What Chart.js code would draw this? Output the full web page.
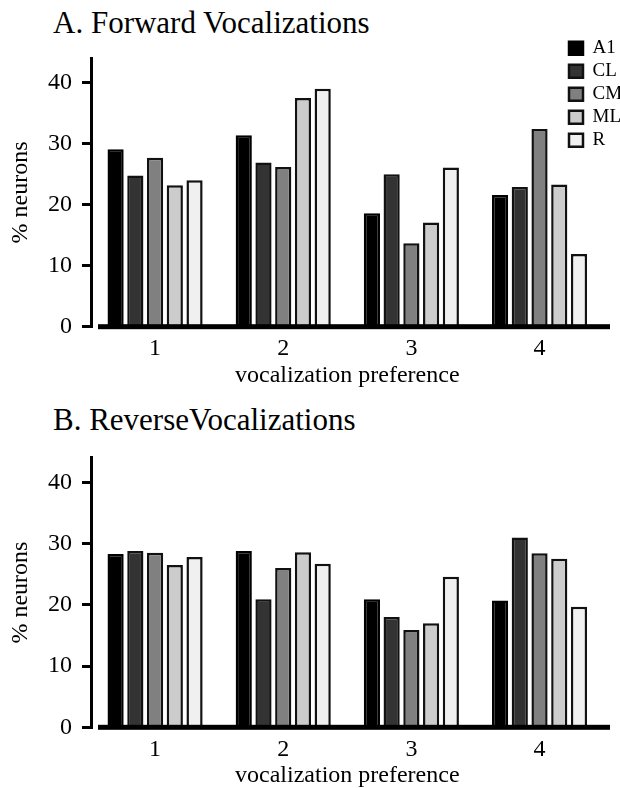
<!DOCTYPE html>
<html>
<head>
<meta charset="utf-8">
<script src="https://cdn.jsdelivr.net/npm/chart.js@4.4.1/dist/chart.umd.min.js"></script>
<style>
  html, body { margin: 0; padding: 0; background: #ffffff; }
  body { width: 620px; height: 788px; position: relative; overflow: hidden; }
  canvas { position: absolute; left: 0; }
  #forwardChart { top: 0; }
  #reverseChart { top: 394px; }
  .panel-head {
    position: absolute; left: 53px; margin: 0;
    font-family: 'Liberation Serif', 'Times New Roman', serif;
    font-size: 31px; line-height: 31px; font-weight: normal;
    color: #000; white-space: nowrap;
  }
</style>
</head>
<body>
<div class="panel-head" style="top:7px">A. Forward Vocalizations</div>
<div class="panel-head" style="top:404px">B. ReverseVocalizations</div>
<canvas id="forwardChart" width="620" height="394"></canvas>
<canvas id="reverseChart" width="620" height="394"></canvas>
<script>
// vocalization preference rank (x categories)
const categories = ['1', '2', '3', '4'];
// cortical fields
const areas = ['A1', 'CL', 'CM', 'ML', 'R'];
// y tick range (% neurons)
const yMin = 0;
const yMax = 44;
const yStep = 10;

// % neurons per preference rank, forward vocalizations
const forwardA1 = [29.1, 31.4, 18.6, 21.6];
const forwardCL = [24.8, 26.9, 25.0, 22.9];
const forwardCM = [27.7, 26.2, 13.7, 32.4];
const forwardML = [23.2, 37.5, 17.1, 23.3];
const forwardR  = [24.0, 39.0, 26.1, 11.9];

// % neurons per preference rank, reversed vocalizations
const reverseA1 = [28.3, 28.8, 20.9, 20.7];
const reverseCL = [28.8, 20.9, 18.0, 31.0];
const reverseCM = [28.5, 26.0, 15.9, 28.4];
const reverseML = [26.5, 28.6, 17.0, 27.5];
const reverseR  = [27.8, 26.7, 24.6, 19.7];

const fills   = ['#000000', '#333333', '#808080', '#cccccc', '#f0f0f0'];
const strokes = ['#000000', '#111111', '#111111', '#111111', '#111111'];

Chart.defaults.font.family = "'Liberation Serif', 'Times New Roman', serif";
Chart.defaults.color = '#000';

// heavy zero line under the bars
const baseline = {
  id: 'baseline',
  afterDatasetsDraw(chart, args, o) {
    const { ctx, chartArea, scales } = chart;
    const y = scales.y.getPixelForValue(0);
    ctx.save();
    ctx.fillStyle = '#000';
    const x0 = chartArea.left + o.inset;
    const x1 = chartArea.right + o.overhang;
    ctx.fillRect(x0, y - o.width / 2, x1 - x0, o.width);
    ctx.restore();
  }
};

// park the legend in the upper right corner of the plot
const legendSpot = {
  id: 'legendSpot',
  afterLayout(chart, args, o) {
    const lg = chart.legend;
    if (!lg || !o || o.x === undefined) return;
    lg.left = o.x;
    lg.top = o.y;
    lg.right = chart.width;
    lg.bottom = o.y + 160;
    lg.width = lg.right - lg.left;
    lg.height = lg.bottom - lg.top;
  }
};

function buildDatasets(series) {
  return series.map((values, i) => ({
    label: areas[i],
    data: values,
    backgroundColor: fills[i],
    borderColor: strokes[i],
    borderWidth: 2.5,
    categoryPercentage: 0.77,
    barPercentage: 0.82
  }));
}

function makeChart(id, series, cfg) {
  return new Chart(document.getElementById(id), {
    type: 'bar',
    data: { labels: categories, datasets: buildDatasets(series) },
    options: {
      responsive: false,
      animation: false,
      devicePixelRatio: 1,
      layout: { padding: { left: 0, right: 16.4, top: cfg.padTop, bottom: 0 } },
      plugins: {
        title: { display: false },
        tooltip: { enabled: false },
        legend: cfg.legend,
        legendSpot: cfg.legendSpot,
        baseline: { inset: 7, overhang: 6.4, width: 5 }
      },
      scales: {
        x: {
          grid: { display: false, drawTicks: false },
          border: { display: false },
          ticks: { padding: 8, color: '#000', font: { size: 24 } },
          title: {
            display: true, text: 'vocalization preference', color: '#000',
            font: { size: 24, lineHeight: 1 },
            padding: { top: 0, bottom: cfg.xTitlePad }
          },
          afterFit: s => { s.height = cfg.xHeight; }
        },
        y: {
          min: yMin, max: yMax,
          ticks: { stepSize: yStep, includeBounds: false, padding: 10, color: '#000', font: { size: 24 } },
          grid: { drawOnChartArea: false, drawTicks: true, tickLength: 9, lineWidth: 3, color: '#000' },
          border: { display: true, color: '#000', width: 3 },
          title: {
            display: true, text: '% neurons', color: '#000',
            font: { size: 24 }, padding: { top: 6, bottom: 0 }
          },
          afterFit: s => { s.width = 91; }
        }
      }
    },
    plugins: [baseline, legendSpot]
  });
}

makeChart('forwardChart', [forwardA1, forwardCL, forwardCM, forwardML, forwardR], {
  padTop: 58.3,
  xHeight: 67.3,
  xTitlePad: 6,
  legend: {
    display: true, position: 'chartArea', align: 'start',
    labels: { boxWidth: 14, boxHeight: 13, padding: 4, color: '#000', font: { size: 19 } }
  },
  legendSpot: { x: 565, y: 34.8 }
});

makeChart('reverseChart', [reverseA1, reverseCL, reverseCM, reverseML, reverseR], {
  padTop: 63.8,
  xHeight: 60.7,
  xTitlePad: 0,
  legend: { display: false },
  legendSpot: {}
});
</script>
</body>
</html>
